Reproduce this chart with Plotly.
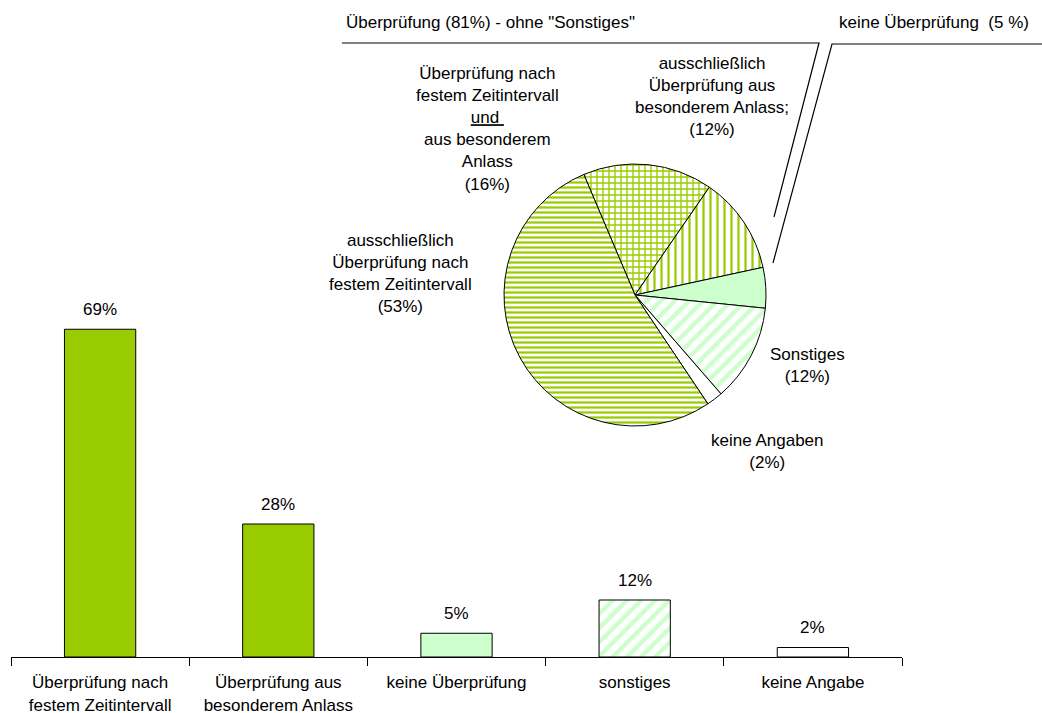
import plotly.graph_objects as go

# ---- data ----
bar_categories = ["Überprüfung nach<br>festem Zeitintervall", "Überprüfung aus<br>besonderem Anlass",
                  "keine Überprüfung", "sonstiges", "keine Angabe"]
bar_values = [69, 28, 5, 12, 2]
bar_labels = ["69%", "28%", "5%", "12%", "2%"]

pie_labels = ["Überprüfung nach festem Zeitintervall und aus besonderem Anlass",
              "ausschließlich Überprüfung aus besonderem Anlass",
              "keine Überprüfung", "Sonstiges", "keine Angaben",
              "ausschließlich Überprüfung nach festem Zeitintervall"]
pie_values = [16, 12, 5, 12, 2, 53]

GREEN = "#99CC00"
LIGHT = "#CCFFCC"
FONT = "Arial, Liberation Sans, sans-serif"
FS = 17

W, H = 1042, 713
ML, MR, MT, MB = 11, 140, 0, 56
PW, PH = W - ML - MR, H - MT - MB


def px(x):
    return (x - ML) / PW


def py(y):
    return 1 - (y - MT) / PH


fig = go.Figure()

fig.add_trace(go.Bar(
    x=bar_categories, y=bar_values, width=0.4,
    marker=dict(
        color=[GREEN, GREEN, LIGHT, LIGHT, "white"],
        line=dict(color="black", width=1),
        pattern=dict(shape=["", "", "", "/", ""],
                     fillmode="replace", size=10, solidity=0.45),
    ),
    hoverinfo="skip", showlegend=False,
))

# pie placed in pixel-derived domain
cx, cy, r = 635, 295, 131
fig.add_trace(go.Pie(
    labels=pie_labels, values=pie_values, sort=False, direction="clockwise",
    rotation=-23, textinfo="none", hoverinfo="skip", showlegend=False,
    domain=dict(x=[px(cx - r), px(cx + r)], y=[py(cy + r), py(cy - r)]),
    marker=dict(
        colors=["white", "white", LIGHT, "white", "white", "white"],
        line=dict(color="black", width=1),
        pattern=dict(shape=["+", "|", "", "/", "", "-"],
                     fgcolor=[GREEN, GREEN, LIGHT, LIGHT, "white", GREEN],
                     bgcolor=["white", "white", LIGHT, "white", "white", "white"],
                     size=[6, 7, 8, 10, 8, 5],
                     solidity=[0.4, 0.32, 0.3, 0.45, 0.3, 0.45]),
    ),
))

annotations = []
# bar value labels
for c, v, t in zip(bar_categories, bar_values, bar_labels):
    annotations.append(dict(x=c, y=v, xref="x", yref="y", text=t, showarrow=False,
                            yanchor="middle", yshift=20, font=dict(size=FS)))

# pie labels and headings
texts = [
    ("Überprüfung (81%) - ohne \"Sonstiges\"", 344, 22, "left"),
    ("keine Überprüfung&nbsp; (5 %)", 1031, 22, "right"),
    ("Überprüfung nach<br>festem Zeitintervall<br><u>und&nbsp;</u><br>aus besonderem<br>Anlass<br>(16%)", 487, 129, "center"),
    ("ausschließlich<br>Überprüfung aus<br>besonderem Anlass;<br>(12%)", 712, 96, "center"),
    ("ausschließlich<br>Überprüfung nach<br>festem Zeitintervall<br>(53%)", 400, 273, "center"),
    ("Sonstiges<br>(12%)", 807, 365, "center"),
    ("keine Angaben<br>(2%)", 767, 451, "center"),
]
for t, x, y, anc in texts:
    annotations.append(dict(x=px(x), y=py(y), xref="paper", yref="paper", text=t,
                            showarrow=False, xanchor=anc, yanchor="middle",
                            align="center", font=dict(size=FS)))

shapes = [
    dict(type="path", xref="paper", yref="paper",
         path=f"M {px(342)} {py(43)} L {px(819)} {py(43)} L {px(774)} {py(217)}",
         line=dict(color="black", width=1.2)),
    dict(type="path", xref="paper", yref="paper",
         path=f"M {px(1042)} {py(44)} L {px(832)} {py(44)} L {px(773)} {py(263)}",
         line=dict(color="black", width=1.2)),
]

fig.update_layout(
    width=W, height=H,
    margin=dict(l=ML, r=MR, t=MT, b=MB),
    paper_bgcolor="white", plot_bgcolor="white",
    font=dict(family=FONT, size=FS, color="black"),
    annotations=annotations, shapes=shapes,
    xaxis=dict(showline=True, linecolor="black", linewidth=1, ticks="outside",
               tickson="boundaries", ticklen=8, tickcolor="black", tickwidth=1,
               ticklabelstandoff=10, automargin=False,
               showgrid=False, zeroline=False, tickfont=dict(size=FS)),
    yaxis=dict(visible=False, range=[0, PH / 4.75], showgrid=False, zeroline=False,
               automargin=False),
)

fig.write_html("out.html", config={"displayModeBar": False},
               post_script="document.body.style.margin='0';document.body.style.overflow='hidden';")
